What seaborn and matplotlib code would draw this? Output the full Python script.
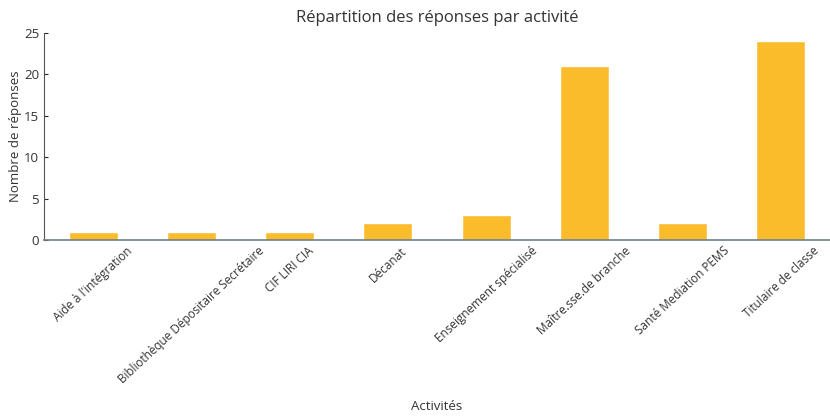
import matplotlib
matplotlib.use('Agg')
import matplotlib.pyplot as plt
import pandas as pd
import seaborn as sns

# Données
activites = [
    "Aide à l'intégration",
    'Bibliothèque Dépositaire Secrétaire',
    'CIF LIRI CIA',
    'Décanat',
    'Enseignement spécialisé',
    'Maître.sse.de branche',
    'Santé Mediation PEMS',
    'Titulaire de classe',
]
reponses = [1, 1, 1, 2, 3, 21, 2, 24]

df = pd.DataFrame({'Activités': activites, 'Nombre de réponses': reponses})

sns.set_style('white')
plt.rcParams['font.family'] = ['Open Sans', 'DejaVu Sans']

fig = plt.figure(figsize=(8.3, 4.16), dpi=100)
ax = fig.add_axes([44 / 830, 176 / 416, 1 - 44 / 830, (240 - 33) / 416])

sns.barplot(data=df, x='Activités', y='Nombre de réponses', color='#FBBC2C',
            width=0.5, saturation=1, ax=ax)

ax.set_xlim(-0.5, 7.5)
ax.set_ylim(0, 25)
ax.set_yticks([0, 5, 10, 15, 20, 25])
ax.set_title('Répartition des réponses par activité', fontsize=12, color='#333333', pad=8)
ax.set_ylabel('Nombre de réponses', fontsize=9.5, color='#333333', va='center')
ax.yaxis.set_label_coords(-28 / 786, 0.5)
ax.set_xlabel('Activités', fontsize=9.5, color='#333333', va='center')
ax.xaxis.set_label_coords(0.5, -167 / 207)
ax.tick_params(axis='x', labelsize=8.5, labelrotation=43, length=0, pad=3, labelcolor='#333333')
ax.tick_params(axis='y', labelsize=9.5, direction='in', length=3, left=True, labelcolor='#333333')

sns.despine(ax=ax, top=True, right=True)
ax.spines['left'].set_color('#555555')
ax.spines['bottom'].set_color('#6f7f8a')
ax.spines['bottom'].set_linewidth(1.2)

fig.savefig('out.png', dpi=100)
